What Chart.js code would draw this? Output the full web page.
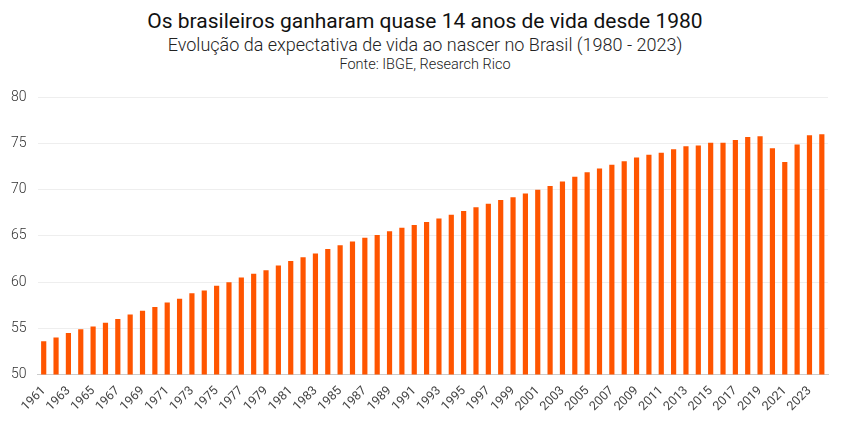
<!DOCTYPE html>
<html>
<head>
<meta charset="utf-8">
<script src="https://cdn.jsdelivr.net/npm/chart.js@4/dist/chart.umd.min.js"></script>
<style>
  body { margin: 0; background: #fff; font-family: Roboto, sans-serif; }
  .cab { text-align: center; color: #111; }
  .t1 { font-size: 21px; font-weight: 400; padding-top: 9px; line-height: 25px; }
  .t2 { font-size: 18px; font-weight: 300; line-height: 22px; color: #222; }
  .t3 { font-size: 14.5px; font-weight: 300; line-height: 18px; color: #222; }
  #caixa { position: absolute; left: 0; top: 78px; width: 850px; height: 346px; }
</style>
</head>
<body>
<div class="cab">
  <div class="t1">Os brasileiros ganharam quase 14 anos de vida desde 1980</div>
  <div class="t2">Evolução da expectativa de vida ao nascer no Brasil (1980 - 2023)</div>
  <div class="t3">Fonte: IBGE, Research Rico</div>
</div>
<div id="caixa"><canvas id="grafico"></canvas></div>
<script>
// Anos (1961 - 2024)
var anos = [];
for (var a = 1961; a <= 2024; a++) anos.push(String(a));

// Expectativa de vida ao nascer (anos)
var expectativa = [
  53.6, 54.0, 54.5, 54.9, 55.2, 55.6, 56.0, 56.5, 56.9, 57.3,
  57.8, 58.2, 58.8, 59.1, 59.6, 60.0, 60.5, 60.9, 61.3, 61.8,
  62.3, 62.7, 63.1, 63.6, 64.0, 64.4, 64.8, 65.1, 65.5, 65.9,
  66.2, 66.5, 66.9, 67.3, 67.7, 68.1, 68.5, 68.9, 69.2, 69.6,
  70.0, 70.4, 70.9, 71.4, 71.9, 72.3, 72.7, 73.1, 73.5, 73.8,
  74.0, 74.4, 74.7, 74.8, 75.1, 75.1, 75.4, 75.7, 75.8, 74.5,
  73.0, 74.9, 75.9, 76.0
];

// Marcas do eixo y
var ticksY = [50, 55, 60, 65, 70, 75, 80];

var ctx = document.getElementById("grafico").getContext("2d");

var grafico = new Chart(ctx, {
  type: "bar",
  data: {
    labels: anos,
    datasets: [
      {
        label: "Expectativa de vida",
        data: expectativa,
        backgroundColor: "#ff5500",
        barPercentage: 0.42,
        categoryPercentage: 1,
      },
    ],
  },
  options: {
    responsive: true,
    maintainAspectRatio: false,
    animation: false,
    layout: { padding: { left: 0, right: 22, top: 3, bottom: 1 } },
    plugins: {
      legend: { display: false },
      tooltip: { enabled: false },
    },
    scales: {
      x: {
        grid: { display: false, drawTicks: false },
        border: { color: "#cccccc", width: 1 },
        ticks: {
          autoSkip: false,
          minRotation: 45,
          maxRotation: 45,
          padding: 9,
          color: "#444",
          font: { family: "Roboto", size: 12.5, weight: 400 },
          callback: function (v, i) {
            return i % 2 === 0 ? anos[i] : "";
          },
        },
      },
      y: {
        min: 50,
        max: 80,
        afterBuildTicks: function (axis) {
          axis.ticks = ticksY.map(function (v) { return { value: v }; });
        },
        grid: { color: "#eeeeee", drawTicks: false },
        border: { display: false },
        ticks: {
          padding: 11,
          color: "#333",
          font: { family: "Roboto", size: 14, weight: 300 },
        },
      },
    },
  },
});
</script>
</body>
</html>
